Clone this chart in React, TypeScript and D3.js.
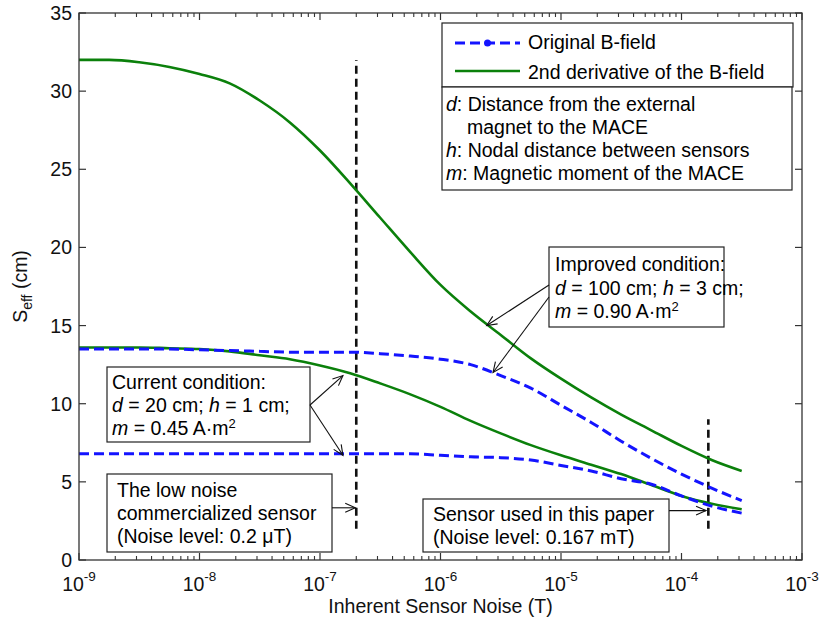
import React from "react";
import * as d3 from "d3";

// ---------- data ----------
const noiseLevels = [
  1e-9, 1.78e-9, 3.16e-9, 5.62e-9, 1e-8, 1.78e-8, 3.16e-8, 5.62e-8, 1e-7, 1.78e-7, 3.16e-7, 5.62e-7,
  1e-6, 1.78e-6, 3.16e-6, 5.62e-6, 1e-5, 1.78e-5, 3.16e-5, 5.62e-5, 1e-4, 1.78e-4, 3.16e-4,
];
const improvedSecondDeriv = [
  32.0, 32.0, 31.85, 31.55, 31.1, 30.5, 29.4, 28.0, 26.2, 24.1, 21.9, 19.7, 17.6, 15.9, 14.4, 12.9, 11.6,
  10.4, 9.3, 8.3, 7.3, 6.4, 5.7,
];
const improvedOriginal = [
  13.5, 13.5, 13.5, 13.5, 13.45, 13.4, 13.35, 13.3, 13.3, 13.3, 13.2, 13.05, 12.85, 12.5, 11.8, 11.0, 9.9,
  8.8, 7.6, 6.5, 5.5, 4.6, 3.8,
];
const currentSecondDeriv = [
  13.6, 13.6, 13.6, 13.55, 13.5, 13.35, 13.1, 12.85, 12.45, 11.95, 11.3, 10.6, 9.8, 8.9, 8.1, 7.35, 6.7,
  6.1, 5.5, 4.8, 4.1, 3.6, 3.25,
];
const currentOriginal = [
  6.8, 6.8, 6.8, 6.8, 6.8, 6.8, 6.8, 6.8, 6.8, 6.8, 6.8, 6.8, 6.7, 6.6, 6.55, 6.4, 6.05, 5.7, 5.2, 4.85,
  4.1, 3.45, 3.0,
];
const xTickExponents = [-9, -8, -7, -6, -5, -4, -3];
const yTickValues = [0, 5, 10, 15, 20, 25, 30, 35];
// marker lines: [noise, yFrom, yTo]
const lowNoiseSensor = [2e-7, 2, 32];
const paperSensor = [1.67e-4, 2, 9];

// ---------- layout ----------
const W = 820;
const H = 630;
const M = { left: 79, right: 802, top: 13, bottom: 560 };
const FONT = "Arial, 'Liberation Sans', Helvetica, sans-serif";
const FS = 19.5;
const GREEN = "#0b800b";
const BLUE = "#1414ff";
const AXIS = "#333";

const x = d3.scaleLog().domain([1e-9, 1e-3]).range([M.left, M.right]);
const y = d3.scaleLinear().domain([0, 35]).range([M.bottom, M.top]);

const line = d3
  .line<number>()
  .x((_, i) => x(noiseLevels[i]))
  .y((d) => y(d))
  .curve(d3.curveMonotoneX);

function Arrow({ x1, y1, x2, y2 }: { x1: number; y1: number; x2: number; y2: number }) {
  const a = Math.atan2(y2 - y1, x2 - x1);
  const L = 11;
  const s = 0.42;
  const p1 = [x2 - L * Math.cos(a - s), y2 - L * Math.sin(a - s)];
  const p2 = [x2 - L * Math.cos(a + s), y2 - L * Math.sin(a + s)];
  return (
    <g stroke="#111" strokeWidth={1.1} fill="none">
      <line x1={x1} y1={y1} x2={x2} y2={y2} />
      <polyline points={`${p1[0]},${p1[1]} ${x2},${y2} ${p2[0]},${p2[1]}`} />
    </g>
  );
}

function Box({ x0, y0, w, h }: { x0: number; y0: number; w: number; h: number }) {
  return <rect x={x0} y={y0} width={w} height={h} fill="white" stroke="#222" strokeWidth={1.2} />;
}

export default function App() {
  const minorTicks = x.ticks().filter((t) => {
    const l = Math.log10(t);
    return Math.abs(l - Math.round(l)) > 1e-6;
  });
  const series = [
    { data: improvedSecondDeriv, color: GREEN, dash: undefined, w: 2.6 },
    { data: currentSecondDeriv, color: GREEN, dash: undefined, w: 2.6 },
    { data: improvedOriginal, color: BLUE, dash: "10,5", w: 3 },
    { data: currentOriginal, color: BLUE, dash: "10,5", w: 3 },
  ];
  const it = (s: string) => <tspan fontStyle="italic">{s}</tspan>;

  return (
    <svg
      width={W}
      height={H}
      style={{ position: "absolute", left: 0, top: 0, background: "white" }}
      fontFamily={FONT}
      fontSize={FS}
    >
      <rect x={0} y={0} width={W} height={H} fill="white" />

      {/* vertical marker lines */}
      {[lowNoiseSensor, paperSensor].map((m, i) => (
        <line
          key={i}
          x1={x(m[0])}
          x2={x(m[0])}
          y1={y(m[1])}
          y2={y(m[2])}
          stroke="#111"
          strokeWidth={2.6}
          strokeDasharray="8,5"
        />
      ))}

      {/* series */}
      {series.map((s, i) => (
        <path
          key={i}
          d={line(s.data) || ""}
          fill="none"
          stroke={s.color}
          strokeWidth={s.w}
          strokeDasharray={s.dash}
        />
      ))}

      {/* axes box */}
      <rect
        x={M.left}
        y={M.top}
        width={M.right - M.left}
        height={M.bottom - M.top}
        fill="none"
        stroke={AXIS}
        strokeWidth={1.3}
      />
      {xTickExponents.map((e) => {
        const px = x(Math.pow(10, e));
        return (
          <g key={e}>
            <line x1={px} x2={px} y1={M.bottom} y2={M.bottom - 7} stroke={AXIS} strokeWidth={1.2} />
            <line x1={px} x2={px} y1={M.top} y2={M.top + 7} stroke={AXIS} strokeWidth={1.2} />
            <text x={px} y={591} textAnchor="middle" fill="#111">
              10
              <tspan dy={-10} fontSize={13.5}>
                {String(e)}
              </tspan>
            </text>
          </g>
        );
      })}
      {minorTicks.map((t, i) => (
        <g key={i}>
          <line x1={x(t)} x2={x(t)} y1={M.bottom} y2={M.bottom - 4} stroke={AXIS} strokeWidth={1.1} />
          <line x1={x(t)} x2={x(t)} y1={M.top} y2={M.top + 4} stroke={AXIS} strokeWidth={1.1} />
        </g>
      ))}
      {yTickValues.map((v) => (
        <g key={v}>
          <line x1={M.left} x2={M.left + 7} y1={y(v)} y2={y(v)} stroke={AXIS} strokeWidth={1.2} />
          <line x1={M.right} x2={M.right - 7} y1={y(v)} y2={y(v)} stroke={AXIS} strokeWidth={1.2} />
          <text x={72} y={y(v)} dy="0.36em" textAnchor="end" fill="#111">
            {v}
          </text>
        </g>
      ))}

      {/* axis titles */}
      <text x={(M.left + M.right) / 2} y={613} textAnchor="middle" fill="#111">
        Inherent Sensor Noise (T)
      </text>
      <text transform={`translate(27,${(M.top + M.bottom) / 2}) rotate(-90)`} textAnchor="middle" fill="#111">
        S
        <tspan dy={5} fontSize={14}>
          eff
        </tspan>
        <tspan dy={-5}>{"  (cm)"}</tspan>
      </text>

      {/* legend */}
      <Box x0={442} y0={23} w={351} h={64} />
      <line x1={455} x2={520} y1={43} y2={43} stroke={BLUE} strokeWidth={3} strokeDasharray="10,5" />
      <circle cx={487.5} cy={43} r={3.5} fill={BLUE} />
      <text x={528} y={49}>Original B-field</text>
      <line x1={455} x2={520} y1={71} y2={71} stroke={GREEN} strokeWidth={2.6} />
      <text x={528} y={79}>2nd derivative of the B-field</text>

      <Box x0={442} y0={87} w={350} h={103} />
      <text x={446} y={111}>
        {it("d")}: Distance from the external
      </text>
      <text x={467} y={134}>magnet to the MACE</text>
      <text x={446} y={157}>
        {it("h")}: Nodal distance between sensors
      </text>
      <text x={446} y={180}>
        {it("m")}: Magnetic moment of the MACE
      </text>

      {/* improved condition */}
      <Box x0={549} y0={247} w={175} h={80} />
      <text x={555} y={271}>Improved condition:</text>
      <text x={555} y={295}>
        {it("d")} = 100 cm; {it("h")} = 3 cm;
      </text>
      <text x={555} y={318}>
        {it("m")} = 0.90 A·m<tspan dy={-7} fontSize={13}>2</tspan>
      </text>
      <Arrow x1={549} y1={285} x2={x(2.42e-6)} y2={y(15.0)} />
      <Arrow x1={549} y1={297} x2={x(2.73e-6)} y2={y(12.0)} />

      {/* current condition */}
      <Box x0={107} y0={367} w={203} h={75} />
      <text x={112} y={389}>Current condition:</text>
      <text x={112} y={412}>
        {it("d")} = 20 cm; {it("h")} = 1 cm;
      </text>
      <text x={112} y={435}>
        {it("m")} = 0.45 A·m<tspan dy={-7} fontSize={13}>2</tspan>
      </text>
      <Arrow x1={310} y1={405} x2={x(1.55e-7)} y2={y(11.8)} />
      <Arrow x1={310} y1={405} x2={x(1.55e-7)} y2={y(6.7)} />

      {/* low noise sensor */}
      <Box x0={107} y0={474} w={225} h={78} />
      <text x={117} y={497}>The low noise</text>
      <text x={117} y={520}>commercialized sensor</text>
      <text x={117} y={543}>(Noise level: 0.2 μT)</text>
      <Arrow x1={332} y1={y(3.34)} x2={x(2e-7) - 1} y2={y(3.34)} />

      {/* paper sensor */}
      <Box x0={423} y0={499} w={246} h={53} />
      <text x={433} y={521}>Sensor used in this paper</text>
      <text x={433} y={544}>(Noise level: 0.167 mT)</text>
      <Arrow x1={669} y1={y(3.16)} x2={x(1.6e-4)} y2={y(3.16)} />
    </svg>
  );
}
